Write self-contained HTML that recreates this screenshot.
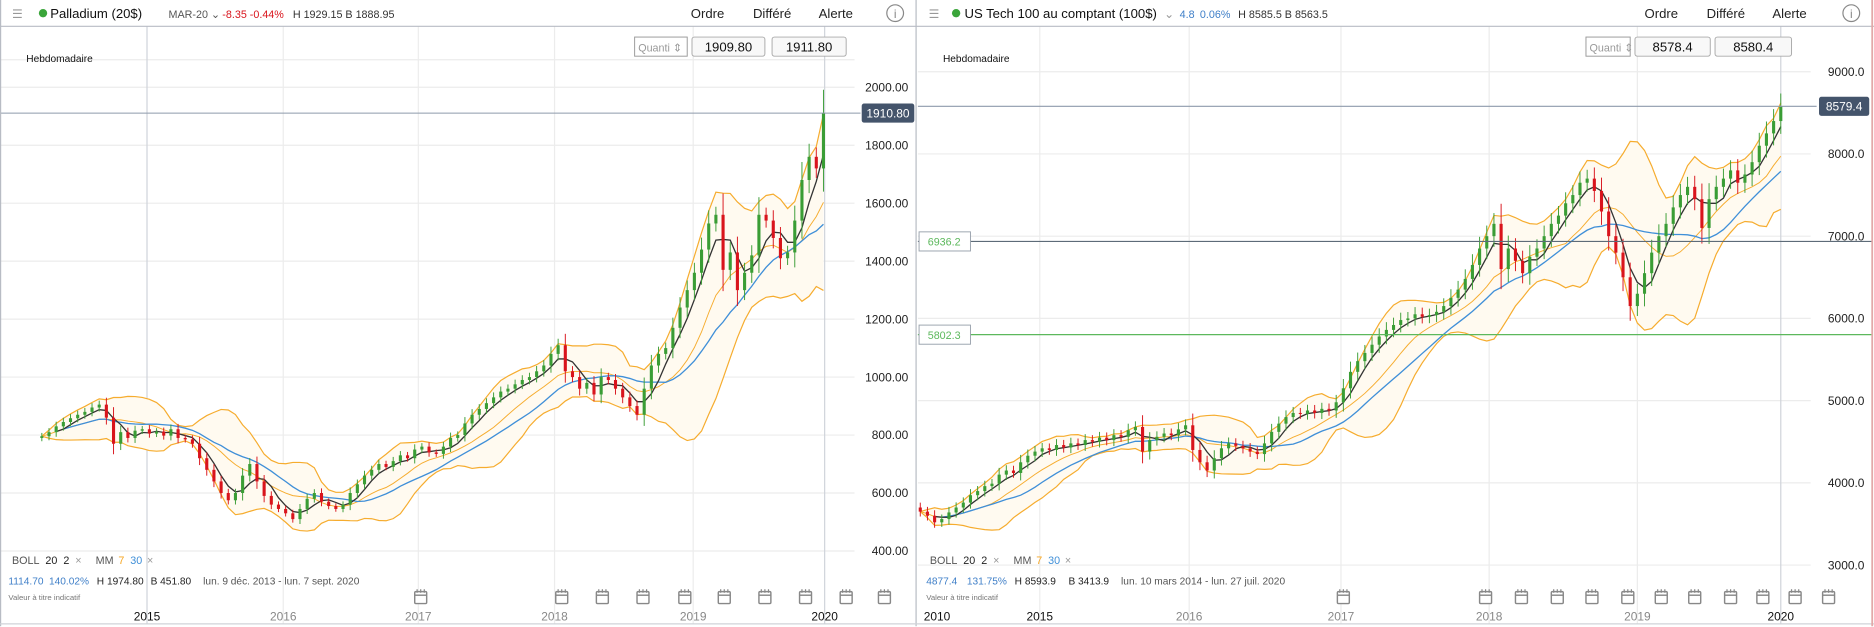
<!DOCTYPE html>
<html><head><meta charset="utf-8"><style>
html,body{margin:0;padding:0;background:#fff;overflow:hidden}
svg{display:block;font-family:"Liberation Sans",sans-serif}
</style></head><body>
<svg id="root" width="1874" height="627" viewBox="0 0 1568 524.6" xmlns="http://www.w3.org/2000/svg">
<rect x="0" y="0" width="1568" height="524.6" fill="#fff"/>
<g id="static"></g>
<g id="leftChart"></g>
<g id="rightChart"></g>
</svg>
<script>
// ---------- DATA ----------
const palladiumCloses = [796,810,830,845,858,870,880,895,905,860,770,810,790,815,820,805,812,798,820,790,785,770,720,680,640,600,575,600,660,700,640,590,560,545,530,510,545,580,600,570,555,545,560,600,630,660,680,700,690,710,730,720,750,760,740,735,760,790,800,840,870,890,910,930,950,960,975,990,1000,1020,1040,1080,1110,1020,1000,960,980,940,1000,990,960,930,900,870,960,1040,1080,1100,1170,1240,1300,1360,1440,1530,1560,1370,1430,1300,1360,1420,1560,1540,1480,1410,1430,1540,1680,1760,1720,1911];
const palladiumOpen0 = 790;
const palladiumTicks = [400,600,800,1000,1200,1400,1600,1800,2000];
const palladiumTickLabels = ["400.00","600.00","800.00","1000.00","1200.00","1400.00","1600.00","1800.00","2000.00"];
const palladiumYears = ["2015","2016","2017","2018","2019","2020"];
const palladiumPrice = [1910.80];

const ndxCloses = [3650,3600,3520,3560,3640,3700,3760,3850,3900,3960,3990,4100,4150,4120,4250,4330,4380,4420,4400,4460,4430,4480,4460,4520,4500,4550,4520,4580,4560,4640,4680,4380,4520,4560,4600,4580,4650,4700,4400,4250,4150,4300,4420,4480,4450,4420,4380,4350,4480,4620,4720,4800,4850,4840,4880,4850,4900,4880,4980,5150,5350,5480,5580,5680,5780,5860,5920,5980,6000,6050,6020,6040,6080,6150,6250,6350,6480,6650,6850,7000,7150,6600,6850,6700,6550,6750,6850,7000,7150,7250,7400,7500,7650,7700,7550,7300,7000,6800,6500,6150,6300,6550,6800,7000,7150,7350,7500,7600,7450,7100,7450,7600,7700,7800,7650,7750,7900,8100,8250,8400,8579];
const ndxOpen0 = 3700;
const ndxTicks = [3000,4000,5000,6000,7000,8000,9000];
const ndxTickLabels = ["3000.0","4000.0","5000.0","6000.0","7000.0","8000.0","9000.0"];
const ndxYears = ["2010","2015","2016","2017","2018","2019","2020"];
const ndxLevels = [6936.2, 5802.3];
const ndxPrice = [8579.4];

// ---------- helpers ----------
const NS="http://www.w3.org/2000/svg";
function mk(tag, parent, attrs, txt){const e=document.createElementNS(NS,tag);for(const k in attrs)e.setAttribute(k,attrs[k]);if(txt!==undefined)e.textContent=txt;parent.appendChild(e);return e;}
const S=document.getElementById('static');

const xL=i=>35+6*i, yL=v=>73+(2000-v)*0.2425;
const xR=i=>770+6*i, yR=v=>60+(9000-v)*0.0688;
const yearXL=[123,237,350,464,580,690];
const yearXR=[784,870,995,1122,1246,1370,1490];

function stats(c,p){const out=[];for(let i=0;i<c.length;i++){const w=c.slice(Math.max(0,i-p+1),i+1);const m=w.reduce((a,b)=>a+b,0)/w.length;const sd=Math.sqrt(w.reduce((a,b)=>a+(b-m)*(b-m),0)/w.length);out.push([m,sd]);}return out;}

function drawChart(g, closes, open0, xf, yf, clipX0, clipX1, pfx){
  const cp=mk('clipPath',g,{id:pfx+'clip'});mk('rect',cp,{x:clipX0,y:30,width:clipX1-clipX0,height:420});
  const pg=mk('g',g,{'clip-path':'url(#'+pfx+'clip)'});
  const boll=stats(closes,10), m7=stats(closes,4), m30=stats(closes,15);
  const up=boll.map((s,i)=>xf(i)+','+yf(s[0]+2*s[1]));
  const lo=boll.map((s,i)=>xf(i)+','+yf(s[0]-2*s[1]));
  const fill=mk('polygon',pg,{points:up.concat(lo.slice().reverse()).join(' '),fill:'#fffaf0'});
  
  
  const ub=mk('polyline',pg,{points:up.join(' '),fill:'none',stroke:'#f6ac2e','stroke-width':1});
  
  
  const lb=mk('polyline',pg,{points:lo.join(' '),fill:'none',stroke:'#f6ac2e','stroke-width':1});
  
  
  const mid=mk('polyline',pg,{points:boll.map((s,i)=>xf(i)+','+yf(s[0])).join(' '),fill:'none',stroke:'#f6ac2e','stroke-width':0.8});
  
  
  const ma30=mk('polyline',pg,{points:m30.slice(3).map((s,i)=>xf(i+3)+','+yf(s[0])).join(' '),fill:'none',stroke:'#3f8fd8','stroke-width':1.1});
  
  
  const ma7=mk('polyline',pg,{points:m7.slice(2).map((s,i)=>xf(i+2)+','+yf(s[0])).join(' '),fill:'none',stroke:'#333','stroke-width':1.1});
  
  
  for(let i=0;i<closes.length;i++){
    const o=i===0?open0:closes[i-1], c=closes[i];
    const hi=Math.max(o,c)+Math.abs(c-o)*0.3+c*0.012, lw=Math.min(o,c)-Math.abs(c-o)*0.3-c*0.012;
    const col=c>=o?'#3a9d35':'#d9141c';
    const x=xf(i);
    const w=mk('line',pg,{x1:x,x2:x,y1:yf(hi),y2:yf(lw),stroke:col,'stroke-width':0.8});
    
    
    const b=mk('rect',pg,{x:x-1.3,y:Math.min(yf(o),yf(c)),width:2.6,height:Math.max(0.8,Math.abs(yf(o)-yf(c))),fill:col});
    
    
  }
}

function txt(parent,x,y,s,opts){const t=mk('text',parent,Object.assign({x:x,y:y,'font-size':10,fill:'#222'},opts||{}),s);return t;}
palladiumTicks.forEach((v,i)=>{
  const l=mk('line',S,{x1:0,x2:715,y1:yL(v),y2:yL(v),stroke:'#ececec'});
  
  
  const t=txt(S,760,yL(v)+3.5,palladiumTickLabels[i],{'text-anchor':'end'});
  
  
});
[50].forEach(y=>{mk('line',S,{x1:0,x2:715,y1:y,y2:y,stroke:'#ececec'});});
yearXL.forEach((x,i)=>{
  const l=mk('line',S,{x1:x,x2:x,y1:22,y2:522,stroke:(i===0||i===5)?'#cfd3da':'#ececec'});
  
  
  const t=txt(S,x,519,palladiumYears[i],{'text-anchor':'middle',fill:(i===0||i===5)?'#111':'#888'});
  
  
});
ndxTicks.forEach((v,i)=>{
  const l=mk('line',S,{x1:768,x2:1515,y1:yR(v),y2:yR(v),stroke:'#ececec'});
  
  
  const t=txt(S,1560,yR(v)+3.5,ndxTickLabels[i],{'text-anchor':'end'});
  
  
});
yearXR.forEach((x,i)=>{
  if(i>0){const l=mk('line',S,{x1:x,x2:x,y1:22,y2:522,stroke:i===6?'#cfd3da':'#ececec'});
  
  }
  const t=txt(S,x,519,ndxYears[i],{'text-anchor':'middle',fill:(i<2||i===6)?'#111':'#888'});
  
  
});

drawChart(document.getElementById('leftChart'),palladiumCloses,palladiumOpen0,xL,yL,0,715,'left-');
drawChart(document.getElementById('rightChart'),ndxCloses,ndxOpen0,xR,yR,768,1515,'right-');

const G2=mk('g',S.parentNode,{});
const pl=mk('line',G2,{x1:0,x2:720,y1:yL(palladiumPrice[0]),y2:yL(palladiumPrice[0]),stroke:'#8e9aab','stroke-width':0.9});


const pt=mk('rect',G2,{x:721,y:yL(palladiumPrice[0])-8,width:44,height:16,rx:2,fill:'#44546b'});


txt(G2,743,yL(palladiumPrice[0])+3.5,palladiumPrice[0].toFixed(2),{'text-anchor':'middle',fill:'#fff'});
const pr=mk('line',G2,{x1:768,x2:1520,y1:yR(ndxPrice[0]),y2:yR(ndxPrice[0]),stroke:'#8e9aab','stroke-width':0.9});


const prt=mk('rect',G2,{x:1522,y:yR(ndxPrice[0])-8,width:42,height:16,rx:2,fill:'#44546b'});


txt(G2,1543,yR(ndxPrice[0])+3.5,ndxPrice[0].toFixed(1),{'text-anchor':'middle',fill:'#fff'});
ndxLevels.forEach((v,i)=>{
  const l=mk('line',G2,{x1:768,x2:1566,y1:yR(v),y2:yR(v),stroke:i===0?'#5d6b78':'#5cb85c','stroke-width':1});
  
  
  const b=mk('rect',G2,{x:769,y:yR(v)-8,width:43,height:16,fill:'#fff',stroke:'#9aa3ad','stroke-width':0.8});
  
  
  txt(G2,790,yR(v)+3.5,v.toFixed(1),{'text-anchor':'middle',fill:'#5cb85c','font-size':9});
});

function cal(x,y){const g=mk('g',G2,{});mk('rect',g,{x:x-5,y:y-5,width:10,height:10,fill:'#fff',stroke:'#888','stroke-width':1.2,rx:1});mk('line',g,{x1:x-5,x2:x+5,y1:y-2,y2:y-2,stroke:'#888','stroke-width':1.2});[-3,0,3].forEach(d=>mk('line',g,{x1:x+d,x2:x+d,y1:y-7,y2:y-4,stroke:'#888'}));return g;}
[352,470,504,538,573,606,640,674,708,740,1124,1243,1273,1303,1332,1362,1390,1418,1448,1475,1502,1530].forEach(x=>{
  const c=cal(x,500);
  
  
});
</script>
<script>
(function(){
const NS="http://www.w3.org/2000/svg";const R=document.getElementById('root');
function mk(tag,p,a,t){const e=document.createElementNS(NS,tag);for(const k in a)e.setAttribute(k,a[k]);if(t!==undefined)e.textContent=t;p.appendChild(e);return e;}
const g=mk('g',R,{});
mk('rect',g,{x:0,y:0,width:1568,height:22,fill:'#fff'});
mk('line',g,{x1:0,x2:1568,y1:22,y2:22,stroke:'#b8bcc4'});
mk('line',g,{x1:766.5,x2:766.5,y1:0,y2:524,stroke:'#b8bcc4'});
mk('line',g,{x1:0.5,x2:0.5,y1:0,y2:524,stroke:'#b8bcc4'});
mk('line',g,{x1:0,x2:1568,y1:522,y2:522,stroke:'#d0d3d8'});
mk('line',g,{x1:1566.5,x2:1566.5,y1:0,y2:524,stroke:'#e2a8a8','stroke-width':1.5});
function T(x,y,s,o){return mk('text',g,Object.assign({x:x,y:y,'font-size':10,fill:'#222'},o||{}),s);}
let t;
t=T(10,15,'☰',{fill:'#999','font-size':10});
mk('circle',g,{cx:36,cy:11,r:3.5,fill:'#3aa53a'});
t=T(42,15,'Palladium (20$)',{'font-size':11,fill:'#111'});
t=T(141,15,'MAR-20 ⌄',{fill:'#555','font-size':9});
T(186,15,'-8.35',{fill:'#d9141c','font-size':9});
T(209,15,'-0.44%',{fill:'#d9141c','font-size':9});
T(245,15,'H 1929.15 B 1888.95',{fill:'#333','font-size':9});
t=T(578,15,'Ordre',{'font-size':11});
t=T(630,15,'Différé',{'font-size':11});
t=T(685,15,'Alerte',{'font-size':11});
mk('circle',g,{cx:749,cy:11,r:7,fill:'none',stroke:'#888'});T(749,15,'i',{'text-anchor':'middle',fill:'#888','font-size':10});
T(777,15,'☰',{fill:'#999'});
mk('circle',g,{cx:800,cy:11,r:3.5,fill:'#3aa53a'});
t=T(807,15,'US Tech 100 au comptant (100$)',{'font-size':11,fill:'#111'});
T(974,15,'⌄',{fill:'#999'});
T(987,15,'4.8',{fill:'#3f7fc8','font-size':9});
T(1004,15,'0.06%',{fill:'#3f7fc8','font-size':9});
T(1036,15,'H 8585.5 B 8563.5',{fill:'#333','font-size':9});
t=T(1376,15,'Ordre',{'font-size':11});
t=T(1428,15,'Différé',{'font-size':11});
t=T(1483,15,'Alerte',{'font-size':11});
mk('circle',g,{cx:1549,cy:11,r:7,fill:'none',stroke:'#888'});T(1549,15,'i',{'text-anchor':'middle',fill:'#888'});
function box(x,w,s,name,q){const r=mk('rect',g,{x:x,y:31,width:w,height:16,rx:q?0:2,fill:q?'#fff':'#f8f8f8',stroke:q?'#999':'#aaa','stroke-width':0.8});
 T(q?x+3:x+w/2,43,s,{'text-anchor':q?'start':'middle','font-size':q?9:11,fill:q?'#999':'#111'});}
box(531,44,'Quanti ⇕','left-quantity-input',true);box(579,61,'1909.80','left-sell-button');box(646,62,'1911.80','left-buy-button');
box(1327,37,'Quanti ⇕','right-quantity-input',true);box(1368,63,'8578.4','right-sell-button');box(1435,64,'8580.4','right-buy-button');
T(22,52,'Hebdomadaire',{'font-size':8.5,fill:'#111'});
T(789,52,'Hebdomadaire',{'font-size':8.5,fill:'#111'});
function legend(x,vals){
 T(x,472,'BOLL',{fill:'#555','font-size':9});T(x+28,472,'20',{'font-size':9});T(x+43,472,'2',{'font-size':9});T(x+53,472,'×',{fill:'#999','font-size':9});
 T(x+70,472,'MM',{fill:'#555','font-size':9});T(x+89,472,'7',{fill:'#f6a623','font-size':9});T(x+99,472,'30',{fill:'#3f8fd8','font-size':9});T(x+113,472,'×',{fill:'#999','font-size':9});
 T(x-3,489,vals[0],{fill:'#3f7fc8','font-size':8.5});T(x+31,489,vals[1],{fill:'#3f7fc8','font-size':8.5});T(x+71,489,vals[2],{'font-size':8.5});T(x+116,489,vals[3],{'font-size':8.5});T(x+160,489,vals[4],{fill:'#555','font-size':8.5});
 T(x-3,502,'Valeur à titre indicatif',{fill:'#777','font-size':6.5});
}
legend(10,['1114.70','140.02%','H 1974.80','B 451.80','lun. 9 déc. 2013 - lun. 7 sept. 2020']);
legend(778,['4877.4','131.75%','H 8593.9','B 3413.9','lun. 10 mars 2014 - lun. 27 juil. 2020']);
})();
</script>
</body></html>
